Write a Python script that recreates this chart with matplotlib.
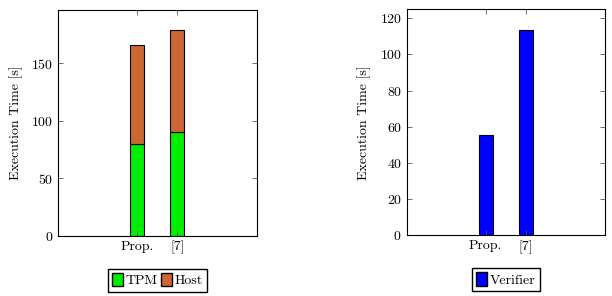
import matplotlib.pyplot as plt
from matplotlib.patches import Patch

plt.rcParams['font.family'] = 'cmr10'
plt.rcParams['axes.formatter.use_mathtext'] = True
plt.rcParams['font.size'] = 10

# data
cats = ["Prop.", "[7]"]
tpm = [79.5, 90]
host = [86.5, 89]
verifier = [55.6, 113.7]

fig = plt.figure(figsize=(6.12, 2.96), dpi=100)
ax1 = fig.add_axes([0.0948, 0.2027, 0.3246, 0.7635])
ax2 = fig.add_axes([0.6645, 0.205, 0.3241, 0.7636])

x = list(range(len(cats)))
w = 0.35
ax1.bar(x, tpm, w, color='#00ee00', edgecolor='black', linewidth=0.8)
ax1.bar(x, host, w, bottom=tpm, color='#cc6633', edgecolor='black', linewidth=0.8)
ax2.bar(x, verifier, w, color='#0000ff', edgecolor='black', linewidth=0.8)

ax1.set_ylim(0, 196)
ax1.set_yticks([0, 50, 100, 150])
ax2.set_ylim(0, 125)
ax2.set_yticks([0, 20, 40, 60, 80, 100, 120])

for ax in (ax1, ax2):
    ax.set_xlim(-1.98, 2.99)
    ax.set_xticks(x)
    ax.set_xticklabels(cats)
    ax.set_ylabel("Execution Time [s]", labelpad=6)
    ax.tick_params(direction='in', top=True, right=True, length=3.5, width=0.6, color='#555555')
    for s in ax.spines.values():
        s.set_linewidth(0.8)

leg1 = ax1.legend(handles=[Patch(facecolor='#00ee00', edgecolor='black', label='TPM'),
                           Patch(facecolor='#cc6633', edgecolor='black', label='Host')],
                  loc='upper center', bbox_to_anchor=(0.5, -0.115), ncol=2,
                  fancybox=False, edgecolor='black', handlelength=0.8, handleheight=1.1,
                  handletextpad=0.2, columnspacing=0.2, borderpad=0.3, framealpha=1)
leg2 = ax2.legend(handles=[Patch(facecolor='#0000ff', edgecolor='black', label='Verifier')],
                  loc='upper center', bbox_to_anchor=(0.5, -0.115), ncol=1,
                  fancybox=False, edgecolor='black', handlelength=0.8, handleheight=1.1,
                  handletextpad=0.2, borderpad=0.3, framealpha=1)

fig.savefig("out.png", dpi=100)
